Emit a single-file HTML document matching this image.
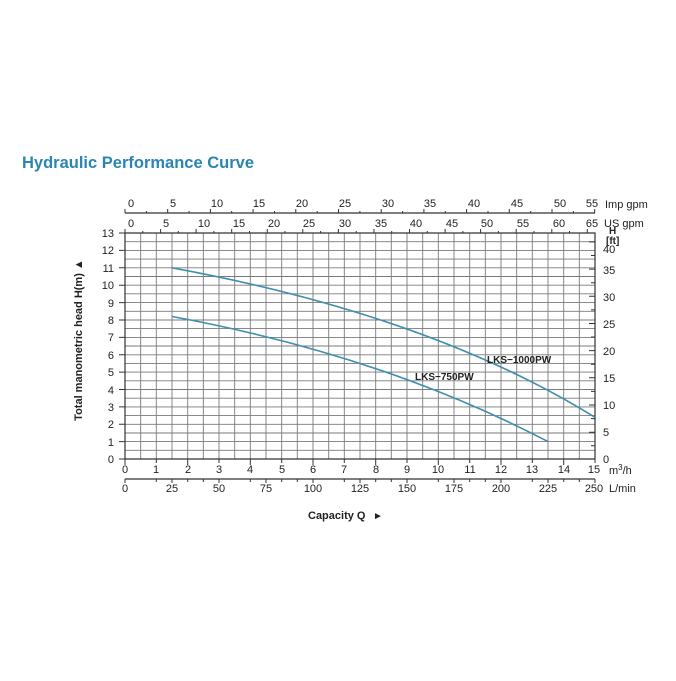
<!DOCTYPE html>
<html><head><meta charset="utf-8"><style>
body{margin:0;background:#fff}
svg text{font-family:"Liberation Sans",Arial,sans-serif;fill:#222}
</style></head><body>
<svg width="676" height="676" viewBox="0 0 676 676" xmlns="http://www.w3.org/2000/svg">
<rect width="676" height="676" fill="#fff"/>
<text x="22" y="168" font-size="16.5" font-weight="bold" style="fill:#2a86b0">Hydraulic Performance Curve</text>
<g stroke="#7a7a7a" stroke-width="0.9">
<path d="M140.7 233V459M156.3 233V459M172 233V459M187.7 233V459M203.3 233V459M219 233V459M234.7 233V459M250.3 233V459M266 233V459M281.7 233V459M297.3 233V459M313 233V459M328.7 233V459M344.3 233V459M360 233V459M375.7 233V459M391.3 233V459M407 233V459M422.7 233V459M438.3 233V459M454 233V459M469.7 233V459M485.3 233V459M501 233V459M516.7 233V459M532.3 233V459M548 233V459M563.7 233V459M579.3 233V459"/>
<path d="M125 241.7H595M125 250.4H595M125 259.1H595M125 267.8H595M125 276.5H595M125 285.2H595M125 293.8H595M125 302.6H595M125 311.3H595M125 320H595M125 328.6H595M125 337.4H595M125 346H595M125 354.8H595M125 363.4H595M125 372.1H595M125 380.8H595M125 389.5H595M125 398.2H595M125 406.9H595M125 415.6H595M125 424.3H595M125 433H595M125 441.6H595M125 450.3H595"/>
</g>
<g stroke="#333" stroke-width="1.2" fill="none">
<path d="M125 233V459H595V233H125"/>
<path d="M125 213H595"/>
<path d="M125 479H595"/>
</g>
<g stroke="#333" stroke-width="1">
<path d="M119 459H125M119 441.6H125M119 424.3H125M119 406.9H125M119 389.5H125M119 372.1H125M119 354.8H125M119 337.4H125M119 320H125M119 302.6H125M119 285.2H125M119 267.8H125M119 250.4H125M119 233H125"/>
<path d="M595 459H589M595 445.8H591M595 432.2H589M595 418.6H591M595 405H589M595 391.4H591M595 377.8H589M595 364.2H591M595 350.6H589M595 337H591M595 323.5H589M595 309.9H591M595 296.3H589M595 282.7H591M595 269.1H589M595 255.5H591M595 241.9H589"/>
<path d="M125 459V465M156.3 459V463M187.7 459V465M219 459V463M250.3 459V465M281.7 459V463M313 459V465M344.3 459V463M375.7 459V465M407 459V463M438.3 459V465M469.7 459V463M501 459V465M532.3 459V463M563.7 459V465M595 459V463"/>
<path d="M125 479V483M156.3 479V482M172 479V483M187.7 479V482M203.3 479V482M219 479V483M250.3 479V482M266 479V483M281.7 479V482M297.3 479V482M313 479V483M344.3 479V482M360 479V483M375.7 479V482M391.3 479V482M407 479V483M438.3 479V482M454 479V483M469.7 479V482M485.3 479V482M501 479V483M532.3 479V482M548 479V483M563.7 479V482M579.3 479V482M595 479V483"/>
<path d="M125 213V209M167.7 213V209M210.4 213V209M253.1 213V209M295.8 213V209M338.5 213V209M381.2 213V209M423.9 213V209M466.6 213V209M509.3 213V209M552 213V209M594.7 213V209M146.4 213V211M189 213V211M231.7 213V211M274.5 213V211M317.2 213V211M359.9 213V211M402.6 213V211M445.3 213V211M488 213V211M530.7 213V211M573.4 213V211"/>
<path d="M125 233V229M160.6 233V229M196.1 233V229M231.7 233V229M267.3 233V229M302.8 233V229M338.4 233V229M374 233V229M409.5 233V229M445.1 233V229M480.6 233V229M516.2 233V229M551.8 233V229M587.3 233V229M142.8 233V231M178.3 233V231M213.9 233V231M249.5 233V231M285 233V231M320.6 233V231M356.2 233V231M391.7 233V231M427.3 233V231M462.9 233V231M498.4 233V231M534 233V231M569.5 233V231"/>
</g>
<g font-size="11" text-anchor="end">
<text x="114" y="463">0</text><text x="114" y="446">1</text><text x="114" y="428">2</text><text x="114" y="411">3</text><text x="114" y="394">4</text><text x="114" y="376">5</text><text x="114" y="359">6</text><text x="114" y="341">7</text><text x="114" y="324">8</text><text x="114" y="307">9</text><text x="114" y="289">10</text><text x="114" y="272">11</text><text x="114" y="254">12</text><text x="114" y="237">13</text>
</g>
<g font-size="11">
<text x="603" y="463">0</text><text x="603" y="436">5</text><text x="603" y="409">10</text><text x="603" y="382">15</text><text x="603" y="355">20</text><text x="603" y="328">25</text><text x="603" y="301">30</text><text x="603" y="274">35</text><text x="603" y="253">40</text>
<text x="609" y="234" font-size="10" font-weight="bold">H</text>
<text x="606" y="244" font-size="10" font-weight="bold">[ft]</text>
<text x="605" y="208">Imp gpm</text>
<text x="604" y="227">US gpm</text>
<text x="609" y="474">m<tspan font-size="8" dy="-4">3</tspan><tspan dy="4">/h</tspan></text>
<text x="609" y="492">L/min</text>
</g>
<g font-size="11" text-anchor="middle">
<text x="131" y="207">0</text><text x="173" y="207">5</text><text x="217" y="207">10</text><text x="259" y="207">15</text><text x="302" y="207">20</text><text x="345" y="207">25</text><text x="388" y="207">30</text><text x="430" y="207">35</text><text x="474" y="207">40</text><text x="517" y="207">45</text><text x="560" y="207">50</text><text x="592" y="207">55</text>
<text x="131" y="227">0</text><text x="166" y="227">5</text><text x="204" y="227">10</text><text x="239" y="227">15</text><text x="274" y="227">20</text><text x="309" y="227">25</text><text x="345" y="227">30</text><text x="381" y="227">35</text><text x="416" y="227">40</text><text x="452" y="227">45</text><text x="487" y="227">50</text><text x="523" y="227">55</text><text x="559" y="227">60</text><text x="592" y="227">65</text>
<text x="125" y="473">0</text><text x="156" y="473">1</text><text x="188" y="473">2</text><text x="219" y="473">3</text><text x="250" y="473">4</text><text x="282" y="473">5</text><text x="313" y="473">6</text><text x="344" y="473">7</text><text x="376" y="473">8</text><text x="407" y="473">9</text><text x="438" y="473">10</text><text x="470" y="473">11</text><text x="501" y="473">12</text><text x="532" y="473">13</text><text x="564" y="473">14</text><text x="594" y="473">15</text>
<text x="125" y="492">0</text><text x="172" y="492">25</text><text x="219" y="492">50</text><text x="266" y="492">75</text><text x="313" y="492">100</text><text x="360" y="492">125</text><text x="407" y="492">150</text><text x="454" y="492">175</text><text x="501" y="492">200</text><text x="548" y="492">225</text><text x="594" y="492">250</text>
</g>
<text x="308" y="519" font-size="11" font-weight="bold">Capacity Q</text>
<text x="373" y="519" font-size="10">►</text>
<text transform="translate(82,340) rotate(-90)" font-size="11" font-weight="bold" text-anchor="middle">Total manometric head H(m)   ▲</text>
<g fill="none" stroke="#3f8fae" stroke-width="1.6">
<path d="M172 267.8C320 295 470 340 595 417.3"/>
<path d="M172 316.5C300 340 430 380 548 441.6"/>
</g>
<text x="487" y="363" font-size="10" font-weight="bold">LKS−1000PW</text>
<text x="415" y="380" font-size="10" font-weight="bold">LKS−750PW</text>
</svg>
</body></html>
